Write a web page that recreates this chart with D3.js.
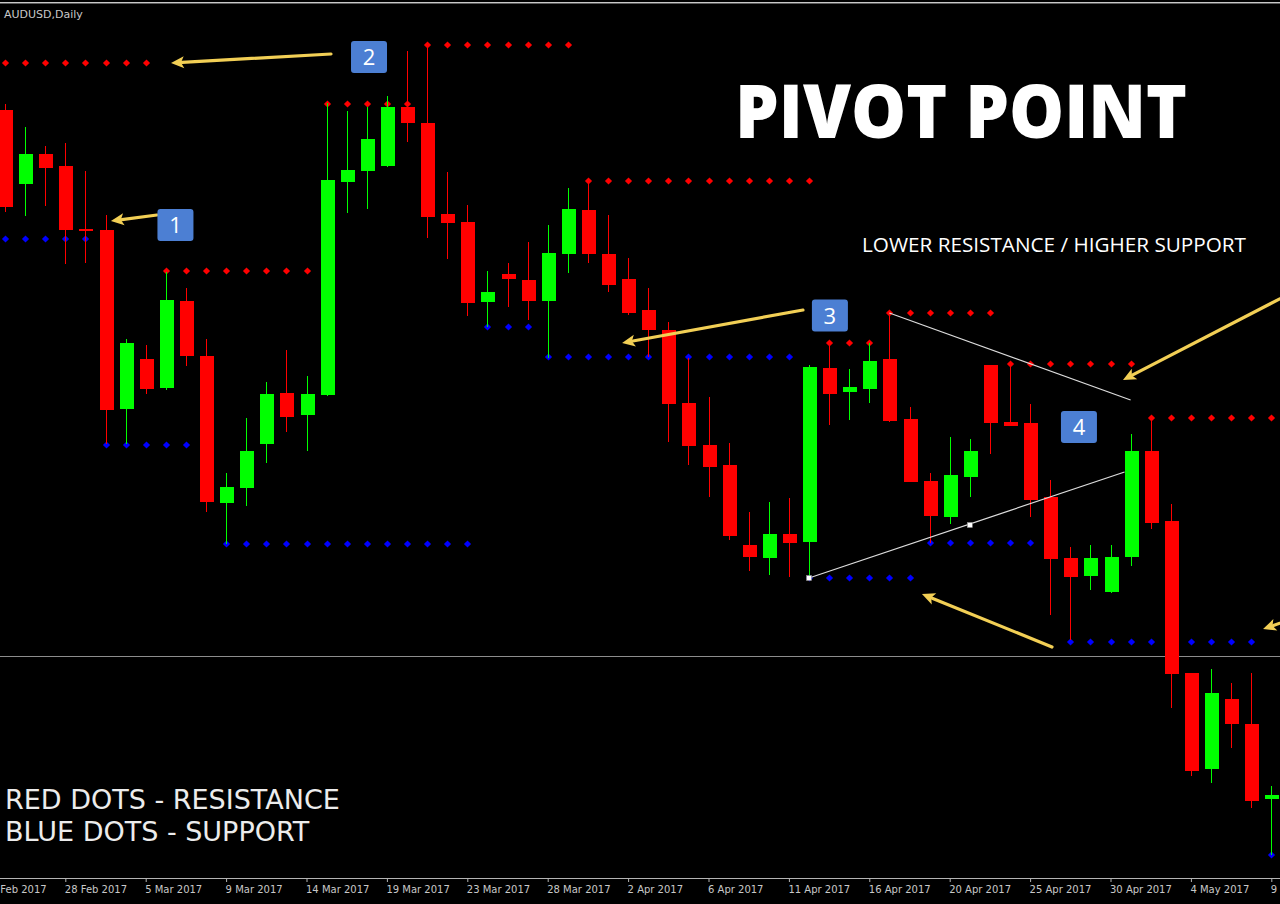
<!DOCTYPE html>
<html>
<head>
<meta charset="utf-8">
<script src="https://cdn.jsdelivr.net/npm/d3@7"></script>
<style>
html,body{margin:0;padding:0;background:#000;overflow:hidden}
svg{display:block}
</style>
</head>
<body>
<svg id="chart" width="1280" height="904"></svg>
<script>
// ---------- DATA (AUDUSD daily) ----------
const opens  = [0.7725,0.7688,0.7703,0.7697,0.76655,0.7665,0.75755,0.76005,0.7586,0.76295,
                0.7602,0.75285,0.7536,0.7558,0.75835,0.75725,0.75825,0.7689,0.76945,0.7697,
                0.77265,0.77185,0.7673,0.7669,0.7629,0.7643,0.764,0.76295,0.7653,0.7675,
                0.7653,0.76405,0.7625,0.7615,0.75785,0.75575,0.75475,0.75075,0.7501,0.7513,
                0.7509,0.7596,0.7584,0.75855,0.76005,0.75705,0.75395,0.75215,0.75415,0.75975,
                0.7569,0.75685,0.75315,0.7501,0.7492,0.7484,0.75015,0.75545,0.75195,0.74435,
                0.73955,0.74305,0.7418,0.73805];
const highs  = [0.7728,0.77165,0.7707,0.77085,0.76945,0.76725,0.76105,0.76075,0.7644,0.7636,
                0.76105,0.75435,0.7571,0.7589,0.7605,0.7592,0.77285,0.77245,0.77265,0.7732,
                0.77545,0.77585,0.7694,0.76775,0.76445,0.76485,0.7659,0.76675,0.7686,0.76895,
                0.76725,0.7651,0.7636,0.7619,0.7601,0.75815,0.75585,0.7524,0.7529,0.7531,
                0.75975,0.76085,0.75955,0.76085,0.76235,0.75765,0.75435,0.75615,0.75605,0.75975,
                0.75985,0.7578,0.754,0.75065,0.75075,0.75075,0.7563,0.7571,0.7528,0.74435,
                0.74455,0.74385,0.74435,0.7387];
const lows   = [0.7674,0.7672,0.7677,0.7648,0.76485,0.7558,0.7558,0.7583,0.7585,0.7597,
                0.7524,0.7508,0.7527,0.75485,0.7564,0.75545,0.7582,0.76735,0.76755,0.76965,
                0.7709,0.7661,0.76505,0.7622,0.76165,0.76265,0.762,0.7601,0.76435,0.76485,
                0.7634,0.76225,0.76015,0.7559,0.75475,0.75315,0.751,0.74945,0.74925,0.74915,
                0.7491,0.75675,0.757,0.75785,0.7569,0.7539,0.75085,0.7518,0.75315,0.7553,
                0.7567,0.75215,0.74725,0.746,0.7485,0.74835,0.7497,0.75155,0.7426,0.7392,
                0.73885,0.7406,0.7376,0.73525];
const closes = [0.76765,0.7703,0.7696,0.7665,0.7665,0.7575,0.76085,0.75855,0.763,0.7602,
                0.7529,0.75365,0.75545,0.7583,0.75715,0.7583,0.769,0.7695,0.77105,0.77265,
                0.77185,0.76715,0.76685,0.76285,0.7634,0.76405,0.76295,0.76535,0.76755,0.7653,
                0.76375,0.76235,0.7615,0.7578,0.7557,0.75465,0.7512,0.75015,0.7513,0.75085,
                0.75965,0.7583,0.75865,0.75995,0.75695,0.7539,0.7522,0.75425,0.75545,0.75685,
                0.7567,0.753,0.75005,0.74915,0.7501,0.75015,0.75545,0.75185,0.7443,0.73945,
                0.74335,0.7418,0.73795,0.73825];
// pivot resistance (red dots) and support (blue dots), one value per candle
const resistance = [0.77485,0.77485,0.77485,0.77485,0.77485,0.77485,0.77485,0.77485,
                    0.76445,0.76445,0.76445,0.76445,0.76445,0.76445,0.76445,0.76445,
                    0.7728,0.7728,0.7728,0.7728,0.7728,
                    0.77575,0.77575,0.77575,0.77575,0.77575,0.77575,0.77575,0.77575,
                    0.76895,0.76895,0.76895,0.76895,0.76895,0.76895,0.76895,0.76895,0.76895,0.76895,0.76895,0.76895,
                    0.76085,0.76085,0.76085,
                    0.76235,0.76235,0.76235,0.76235,0.76235,0.76235,
                    0.7598,0.7598,0.7598,0.7598,0.7598,0.7598,0.7598,
                    0.7571,0.7571,0.7571,0.7571,0.7571,0.7571,0.7571];
const support = [0.76605,0.76605,0.76605,0.76605,0.76605,
                 0.75575,0.75575,0.75575,0.75575,0.75575,0.75575,
                 0.7508,0.7508,0.7508,0.7508,0.7508,0.7508,0.7508,0.7508,0.7508,0.7508,0.7508,0.7508,0.7508,
                 0.76165,0.76165,0.76165,
                 0.76015,0.76015,0.76015,0.76015,0.76015,0.76015,0.76015,0.76015,0.76015,0.76015,0.76015,0.76015,0.76015,
                 0.7491,0.7491,0.7491,0.7491,0.7491,0.7491,
                 0.75085,0.75085,0.75085,0.75085,0.75085,0.75085,0.75085,
                 0.7459,0.7459,0.7459,0.7459,0.7459,0.7459,0.7459,0.7459,0.7459,0.7459,
                 0.73525];
const tickIndex  = [-1,3,7,11,15,19,23,27,31,35,39,43,47,51,55,59,63];
const tickLabels = ["24 Feb 2017","28 Feb 2017","5 Mar 2017","9 Mar 2017","14 Mar 2017","19 Mar 2017",
                    "23 Mar 2017","28 Mar 2017","2 Apr 2017","6 Apr 2017","11 Apr 2017","16 Apr 2017",
                    "20 Apr 2017","25 Apr 2017","30 Apr 2017","4 May 2017","9 May 2017"];
// annotations in (candle index, price) coordinates
const separatorPrice = 0.74518;
const trendFrom = [[44, 0.76235],[40, 0.7491]];
const trendTo   = [[56, 0.7580],[55.7, 0.7544]];
const trendAnchors = [[40, 0.7491],[48, 0.75175]];
const arrowFrom = [[7.56,0.76725],[16.22,0.7753],[39.70,0.7625],[63.98,0.76335],[52.09,0.74565],[64.03,0.74705]];
const arrowTo   = [[5.27,0.76695],[8.26,0.77485],[30.70,0.76085],[55.62,0.7590],[45.62,0.7483],[62.59,0.74655]];
const badgeText = ["1","2","3","4"];
const badgePos  = [[8.48,0.76675],[18.11,0.77515],[41.04,0.762225],[53.43,0.75665]];

// ---------- CHART ----------
const W = 1280, H = 904;
const svg = d3.select("#chart");
svg.append("rect").attr("width", W).attr("height", H).attr("fill", "#000");

const x = d3.scaleLinear().domain([0, 63]).range([5, 5 + 20.1 * 63]);
const y = d3.scaleLinear().domain([0.7340, 0.7760]).range([880, 40]);
const cx = i => Math.round(x(i)) + 0.5;

const candles = d3.range(opens.length).map(i => ({
  i, o: opens[i], h: highs[i], l: lows[i], c: closes[i], r: resistance[i], s: support[i]
}));

// frame lines
svg.append("line").attr("x1", 0).attr("x2", W).attr("y1", 2.5).attr("y2", 2.5).attr("stroke", "#c8c8c8");
svg.append("line").attr("x1", 0).attr("x2", W).attr("y1", 3.5).attr("y2", 3.5).attr("stroke", "#5a5a5a");
svg.append("line").attr("x1", 0).attr("x2", W)
  .attr("y1", Math.round(y(separatorPrice)) + 0.5).attr("y2", Math.round(y(separatorPrice)) + 0.5)
  .attr("stroke", "#8c8c8c");

// pivot dots (drawn under candles)
const diamond = d3.symbol().type(d3.symbolSquare).size(26);
const dots = svg.append("g");
dots.selectAll("path.r").data(candles.filter(d => d.r != null)).join("path")
  .attr("class", "r").attr("d", diamond)
  .attr("transform", d => `translate(${cx(d.i)},${y(d.r)}) rotate(45)`)
  .attr("fill", "#ff0000");
dots.selectAll("path.s").data(candles.filter(d => d.s != null)).join("path")
  .attr("class", "s").attr("d", diamond)
  .attr("transform", d => `translate(${cx(d.i)},${y(d.s)}) rotate(45)`)
  .attr("fill", "#0000ff");

// candles
const col = d => d.c >= d.o ? "#00ff00" : "#ff0000";
const cg = svg.append("g").attr("shape-rendering", "crispEdges");
cg.selectAll("line").data(candles).join("line")
  .attr("x1", d => cx(d.i)).attr("x2", d => cx(d.i))
  .attr("y1", d => y(d.h)).attr("y2", d => y(d.l))
  .attr("stroke", col).attr("stroke-width", 1);
cg.selectAll("rect").data(candles).join("rect")
  .attr("x", d => cx(d.i) - 6.5).attr("width", 14)
  .attr("y", d => y(Math.max(d.o, d.c)))
  .attr("height", d => Math.max(2, Math.abs(y(d.o) - y(d.c))))
  .attr("fill", col);

// trend lines
svg.append("g").selectAll("line").data(trendFrom).join("line")
  .attr("x1", d => x(d[0])).attr("y1", d => y(d[1]))
  .attr("x2", (d, i) => x(trendTo[i][0])).attr("y2", (d, i) => y(trendTo[i][1]))
  .attr("stroke", "#dcdcdc").attr("stroke-width", 1.2);
svg.append("g").selectAll("rect").data(trendAnchors).join("rect")
  .attr("x", d => x(d[0]) - 2.5).attr("y", d => y(d[1]) - 2.5)
  .attr("width", 5).attr("height", 5)
  .attr("fill", "#ffffff").attr("stroke", "#888").attr("stroke-width", 0.6);

// arrows
const ARROW = "#f2cf55";
const ag = svg.append("g");
arrowFrom.forEach((f, i) => {
  const x1 = x(f[0]), y1 = y(f[1]), x2 = x(arrowTo[i][0]), y2 = y(arrowTo[i][1]);
  const a = Math.atan2(y2 - y1, x2 - x1);
  const L = 13, Wd = 6;
  const bx = x2 - L * Math.cos(a), by = y2 - L * Math.sin(a);
  ag.append("line").attr("x1", x1).attr("y1", y1).attr("x2", bx + 2 * Math.cos(a)).attr("y2", by + 2 * Math.sin(a))
    .attr("stroke", ARROW).attr("stroke-width", 3.2).attr("stroke-linecap", "round");
  const p1 = [bx + Wd * Math.sin(a), by - Wd * Math.cos(a)];
  const p2 = [bx - Wd * Math.sin(a), by + Wd * Math.cos(a)];
  const back = [x2 - (L - 3) * Math.cos(a), y2 - (L - 3) * Math.sin(a)];
  ag.append("path")
    .attr("d", `M${x2},${y2}L${p1[0]},${p1[1]}L${back[0]},${back[1]}L${p2[0]},${p2[1]}Z`)
    .attr("fill", ARROW);
});

// number badges
const bg = svg.append("g").selectAll("g").data(badgePos).join("g")
  .attr("transform", d => `translate(${x(d[0])},${y(d[1])})`);
bg.append("rect").attr("x", -18).attr("y", -16).attr("width", 36).attr("height", 32).attr("rx", 3)
  .attr("fill", "#4c7fd3");
bg.append("text").text((d, i) => badgeText[i])
  .attr("text-anchor", "middle").attr("y", 8)
  .attr("font-family", "Open Sans, sans-serif").attr("font-size", 22).attr("fill", "#fff");

// bottom time axis
svg.append("line").attr("x1", 0).attr("x2", W).attr("y1", 878.5).attr("y2", 878.5).attr("stroke", "#b4b4b4");
const axis = d3.axisBottom(x).tickValues(tickIndex).tickFormat((d, i) => tickLabels[i]).tickSize(4).tickSizeOuter(0);
const ax = svg.append("g").attr("transform", "translate(0,878)").call(axis);
ax.select(".domain").remove();
ax.selectAll(".tick line").attr("stroke", "#b4b4b4");
ax.selectAll(".tick text")
  .attr("text-anchor", "start").attr("x", -1).attr("y", 15).attr("dy", 0)
  .attr("fill", "#c8c8c8").attr("font-family", "DejaVu Sans, Verdana, sans-serif").attr("font-size", 10);

// texts
svg.append("text").text("AUDUSD,Daily").attr("x", 4).attr("y", 18)
  .attr("font-family", "DejaVu Sans, sans-serif").attr("font-size", 11).attr("fill", "#c8c8c8");
svg.append("text").text("PIVOT POINT").attr("x", 735).attr("y", 138)
  .attr("font-family", "Open Sans, sans-serif").attr("font-weight", 800).attr("font-size", 74)
  .attr("textLength", 452).attr("lengthAdjust", "spacingAndGlyphs").attr("fill", "#fff");
svg.append("text").text("LOWER RESISTANCE / HIGHER SUPPORT").attr("x", 862).attr("y", 252)
  .attr("font-family", "Open Sans, sans-serif").attr("font-size", 20)
  .attr("textLength", 384).attr("lengthAdjust", "spacingAndGlyphs").attr("fill", "#fff");
svg.append("text").text("RED DOTS - RESISTANCE").attr("x", 5).attr("y", 809)
  .attr("font-family", "DejaVu Sans, Verdana, sans-serif").attr("font-size", 27).attr("fill", "#ececec");
svg.append("text").text("BLUE DOTS - SUPPORT").attr("x", 5).attr("y", 841)
  .attr("font-family", "DejaVu Sans, Verdana, sans-serif").attr("font-size", 27).attr("fill", "#ececec");
</script>
</body>
</html>
